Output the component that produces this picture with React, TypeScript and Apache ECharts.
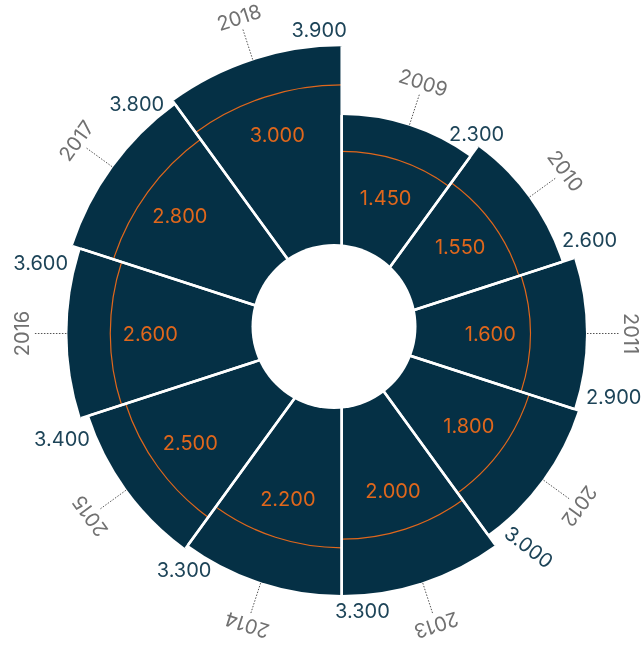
import React, { useEffect, useRef } from 'react';
import * as echarts from 'echarts';

// Yearly figures: outer value per year and the inner reference value
const years = ['2009', '2010', '2011', '2012', '2013', '2014', '2015', '2016', '2017', '2018'];
const totals = [2300, 2600, 2900, 3000, 3300, 3300, 3400, 3600, 3800, 3900];
const baseline = [1450, 1550, 1600, 1800, 2000, 2200, 2500, 2600, 2800, 3000];

const NAVY = '#053045';
const ORANGE = '#e0671c';
const VALUE_COLOR = '#1d4458';
const YEAR_COLOR = '#717171';
const FONT = 'Inter';
const FONT_SIZE = 20;

// Value labels that are drawn tilted (degrees, clockwise)
const tiltedValueLabels: Record<string, number> = { '2012': 37.5 };

const fmt = (v: number) => String(Math.round(v)).replace(/\B(?=(\d{3})+(?!\d))/g, '.');
const DEG = Math.PI / 180;

export default function App() {
  const ref = useRef<HTMLDivElement>(null);

  useEffect(() => {
    if (!ref.current) return;
    const chart = echarts.init(ref.current, undefined, { renderer: 'svg' });

    const textStyle = (text: string, fill: string) => ({
      text,
      fill,
      fontFamily: FONT,
      fontWeight: 400,
      fontSize: FONT_SIZE,
      align: 'center',
      verticalAlign: 'middle',
    });

    const renderItem = (params: any, api: any) => {
      const idx = api.value(1);
      const outer = api.value(0);
      const inner = api.value(2);
      const cx = params.coordSys.cx;
      const cy = params.coordSys.cy;
      const pOuter = api.coord([outer, idx]);
      const rOuter = pOuter[2];
      const phi = -pOuter[3]; // screen angle of the band's middle
      const band = api.size([0, 1])[1];
      const rInner = api.coord([inner, idx])[2];
      const a0 = phi - band / 2;
      const a1 = phi + band / 2;
      const at = (r: number, a: number) => [cx + r * Math.cos(a), cy + r * Math.sin(a)];
      const year = years[idx];

      const children: any[] = [];
      children.push({
        type: 'sector',
        shape: { cx, cy, r0: 0, r: rOuter, startAngle: a0, endAngle: a1, clockwise: true },
        style: { fill: NAVY },
        z2: 0,
      });
      children.push({
        type: 'arc',
        shape: { cx, cy, r: rInner, startAngle: a0, endAngle: a1, clockwise: true },
        style: { stroke: ORANGE, lineWidth: 1.2, fill: 'none' },
        z2: 1,
      });
      [a0, a1].forEach((a) => {
        const e = at(rOuter, a);
        children.push({
          type: 'line',
          shape: { x1: cx, y1: cy, x2: e[0], y2: e[1] },
          style: { stroke: '#ffffff', lineWidth: 2.5 },
          z2: 2,
        });
      });
      // dotted leader and tangential year label
      const l0 = at(rOuter + 1, phi);
      const l1 = at(rOuter + 33, phi);
      children.push({
        type: 'line',
        shape: { x1: l0[0], y1: l0[1], x2: l1[0], y2: l1[1] },
        style: { stroke: '#555555', lineWidth: 1, lineDash: [1.5, 1.5] },
        z2: 3,
      });
      const yp = at(rOuter + 45, phi);
      children.push({
        type: 'text',
        x: yp[0],
        y: yp[1],
        rotation: -(phi + Math.PI / 2),
        style: textStyle(year, YEAR_COLOR),
        z2: 4,
      });
      // outer value near the band's closing corner
      const ae = a1 - 4 * DEG;
      const ux = Math.cos(ae);
      const uy = Math.sin(ae);
      const vp = at(rOuter + 8, ae);
      const tilt = (tiltedValueLabels[year] || 0) * DEG;
      const halfW = 28;
      const pos = tilt
        ? [vp[0] + halfW * Math.cos(tilt), vp[1] + halfW * Math.sin(tilt)]
        : [vp[0] + ux * halfW, vp[1] + uy * 9];
      children.push({
        type: 'text',
        x: pos[0],
        y: pos[1],
        rotation: -tilt,
        style: textStyle(fmt(outer), VALUE_COLOR),
        z2: 4,
      });
      // inner value inside the sector
      const ip = at(rInner - 40, phi);
      children.push({
        type: 'text',
        x: ip[0],
        y: ip[1],
        style: textStyle(fmt(inner), ORANGE),
        z2: 4,
      });
      return { type: 'group', children };
    };

    chart.setOption({
      animation: false,
      polar: { center: [341.7, 333.5], radius: [0, 300] },
      angleAxis: {
        type: 'category',
        data: years,
        startAngle: 90,
        clockwise: true,
        show: false,
      },
      radiusAxis: {
        type: 'value',
        min: -2800,
        max: 4200,
        show: false,
      },
      series: [
        {
          type: 'custom',
          coordinateSystem: 'polar',
          encode: { radius: 0, angle: 1 },
          data: years.map((_, i) => [totals[i], i, baseline[i]]),
          renderItem,
        },
      ],
      graphic: {
        elements: [
          {
            type: 'circle',
            shape: { cx: 334, cy: 326.5, r: 82.5 },
            style: { fill: '#ffffff' },
            z: 50,
          },
        ],
      },
    });

    return () => chart.dispose();
  }, []);

  return (
    <div
      ref={ref}
      style={{ position: 'fixed', left: 0, top: 0, width: 643, height: 651 }}
    />
  );
}
